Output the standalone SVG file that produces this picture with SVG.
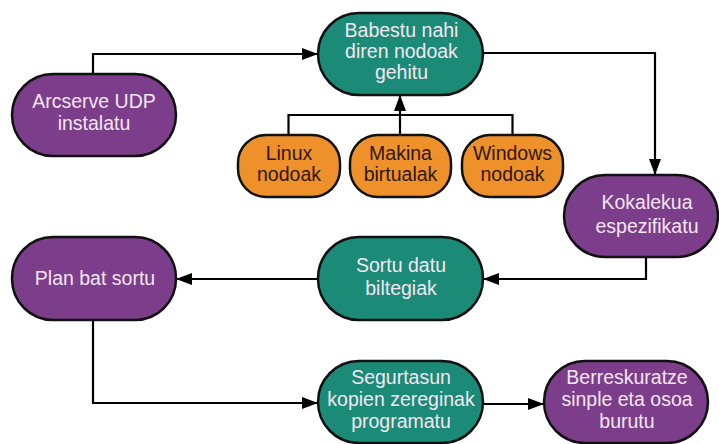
<svg xmlns="http://www.w3.org/2000/svg" width="719" height="444" viewBox="0 0 719 444">
  <style>
    .node { stroke: #111; stroke-width: 2.5; }
    .purple { fill: #7c3d8a; }
    .teal { fill: #1b8b77; }
    .orange { fill: #ee912a; }
    text { font-family: "Liberation Sans", Arial, sans-serif; font-size: 19.5px; text-anchor: middle; }
    .light { fill: #f4e6f2; }
    .dark { fill: #2e1706; }
    .edge { fill: none; stroke: #000; stroke-width: 2.2; }
  </style>
  <defs>
    <marker id="arrow" viewBox="0 0 16 12" refX="16" refY="6" markerWidth="16" markerHeight="12" markerUnits="userSpaceOnUse" orient="auto">
      <path d="M0,0 L16,6 L0,12 Z" fill="#000"/>
    </marker>
  </defs>
  <rect width="719" height="444" fill="#fff"/>

  <g id="connectors">
    <path class="edge" d="M93,74 V54 H318" marker-end="url(#arrow)"/>
    <path class="edge" d="M483,53 H655 V175" marker-end="url(#arrow)"/>
    <path class="edge" d="M288.5,135 V115 H512.5 V135"/>
    <path class="edge" d="M400,135 V95" marker-end="url(#arrow)"/>
    <path class="edge" d="M646,257 V279 H483" marker-end="url(#arrow)"/>
    <path class="edge" d="M318,279 H176" marker-end="url(#arrow)"/>
    <path class="edge" d="M93,320 V403 H318" marker-end="url(#arrow)"/>
    <path class="edge" d="M483,404 H544" marker-end="url(#arrow)"/>
  </g>

  <g id="arcserve">
    <rect class="node purple" x="12" y="74" width="164" height="82" rx="41"/>
    <text class="light" x="94" y="108">Arcserve UDP</text>
    <text class="light" x="94" y="130">instalatu</text>
  </g>
  <g id="babestu">
    <rect class="node teal" x="318" y="13" width="165" height="82" rx="41"/>
    <text class="light" x="401.5" y="37">Babestu nahi</text>
    <text class="light" x="401.5" y="58">diren nodoak</text>
    <text class="light" x="401.5" y="79">gehitu</text>
  </g>
  <g id="linux">
    <rect class="node orange" x="238" y="135" width="102" height="62" rx="28"/>
    <text class="dark" x="289" y="160">Linux</text>
    <text class="dark" x="289" y="181">nodoak</text>
  </g>
  <g id="makina">
    <rect class="node orange" x="350" y="135" width="101" height="62" rx="28"/>
    <text class="dark" x="400.5" y="160">Makina</text>
    <text class="dark" x="400.5" y="181">birtualak</text>
  </g>
  <g id="windows">
    <rect class="node orange" x="462" y="135" width="101" height="62" rx="28"/>
    <text class="dark" x="512.5" y="160">Windows</text>
    <text class="dark" x="512.5" y="181">nodoak</text>
  </g>
  <g id="kokalekua">
    <rect class="node purple" x="564" y="175" width="154" height="82" rx="41"/>
    <text class="light" x="647" y="209">Kokalekua</text>
    <text class="light" x="647" y="233">espezifikatu</text>
  </g>
  <g id="plan">
    <rect class="node purple" x="12" y="237" width="164" height="83" rx="41"/>
    <text class="light" x="95" y="285">Plan bat sortu</text>
  </g>
  <g id="sortu">
    <rect class="node teal" x="318" y="237" width="165" height="83" rx="41"/>
    <text class="light" x="401" y="272">Sortu datu</text>
    <text class="light" x="401" y="295">biltegiak</text>
  </g>
  <g id="segurtasun">
    <rect class="node teal" x="318" y="361" width="165" height="82" rx="41"/>
    <text class="light" x="401" y="384">Segurtasun</text>
    <text class="light" x="401" y="406">kopien zereginak</text>
    <text class="light" x="401" y="428">programatu</text>
  </g>
  <g id="berreskuratze">
    <rect class="node purple" x="544" y="361" width="164" height="82" rx="41"/>
    <text class="light" x="627" y="384">Berreskuratze</text>
    <text class="light" x="627" y="406">sinple eta osoa</text>
    <text class="light" x="627" y="428">burutu</text>
  </g>
</svg>
